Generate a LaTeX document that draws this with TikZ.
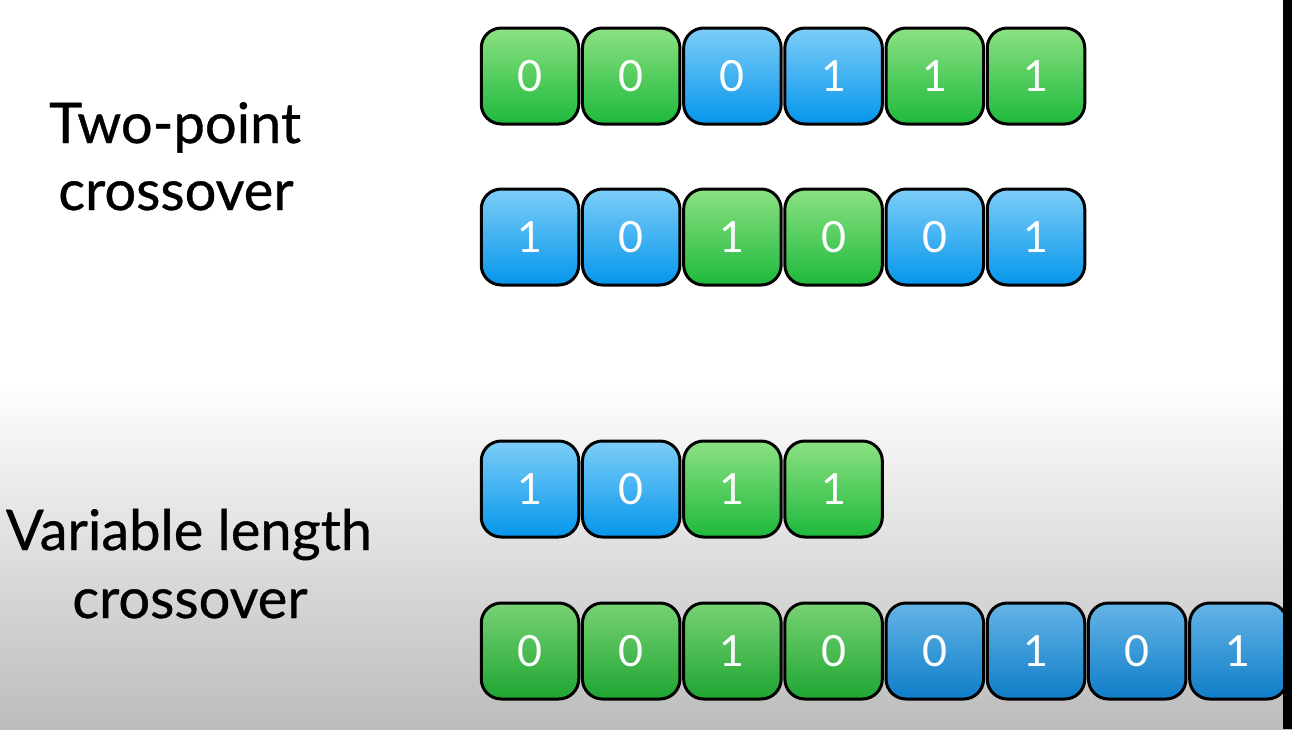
\documentclass[tikz,border=0pt]{standalone}
\usepackage{fontspec}
\setmainfont{Lato}
\newfontfamily\lblfont{Lato}[FakeBold=0.6]
\definecolor{grtop}{RGB}{140,225,130}
\definecolor{grbot}{RGB}{30,185,60}
\definecolor{bltop}{RGB}{125,205,248}
\definecolor{blbot}{RGB}{5,150,235}
\definecolor{grtopd}{RGB}{120,210,115}
\definecolor{grbotd}{RGB}{30,165,50}
\definecolor{bltopd}{RGB}{100,180,230}
\definecolor{blbotd}{RGB}{15,125,200}
\definecolor{bgbot}{RGB}{188,188,188}
\begin{document}
\begin{tikzpicture}[x=1pt,y=-1pt,
  cell/.style={rounded corners=20pt, draw=black, line width=3pt,
    minimum width=97.5pt, minimum height=96pt, inner sep=0pt, text=white,
    font=\fontsize{43}{43}\selectfont},
  g/.style={cell, top color=grtop, bottom color=grbot},
  b/.style={cell, top color=bltop, bottom color=blbot},
  gd/.style={cell, top color=grtopd, bottom color=grbotd},
  bd/.style={cell, top color=bltopd, bottom color=blbotd},
  lbl/.style={font=\lblfont\fontsize{56}{56}\selectfont, text=black, anchor=base, inner sep=0pt}]
\useasboundingbox (0,0) rectangle (1292,729);
\fill[white] (0,0) rectangle (1292,381);
\shade[top color=white, bottom color=bgbot] (0,380) rectangle (1292,729);

% labels
\node[lbl] (t1a) at (175,143) {Two-point};
\node[lbl] (t1b) at (176,210) {crossover};
\node[lbl] (t2a) at (189,550) {Variable length};
\node[lbl] (t2b) at (190,618) {crossover};

% row 1
\foreach \i/\v/\s in {1/0/g,2/0/g,3/0/b,4/1/b,5/1/g,6/1/g}
  \node[\s] (ra\i) at ({530+101.2*(\i-1)},76) {\v};
% row 2
\foreach \i/\v/\s in {1/1/b,2/0/b,3/1/g,4/0/g,5/0/b,6/1/b}
  \node[\s] (rb\i) at ({530+101.2*(\i-1)},237) {\v};
% row 3
\foreach \i/\v/\s in {1/1/b,2/0/b,3/1/g,4/1/g}
  \node[\s] (rc\i) at ({530+101.2*(\i-1)},489) {\v};
% row 4
\foreach \i/\v/\s in {1/0/gd,2/0/gd,3/1/gd,4/0/gd,5/0/bd,6/1/bd,7/0/bd,8/1/bd}
  \node[\s] (rd\i) at ({530+101.2*(\i-1)},651) {\v};

% right edge bar
\fill[black] (1283,0) rectangle (1292,729);
\end{tikzpicture}
\end{document}
